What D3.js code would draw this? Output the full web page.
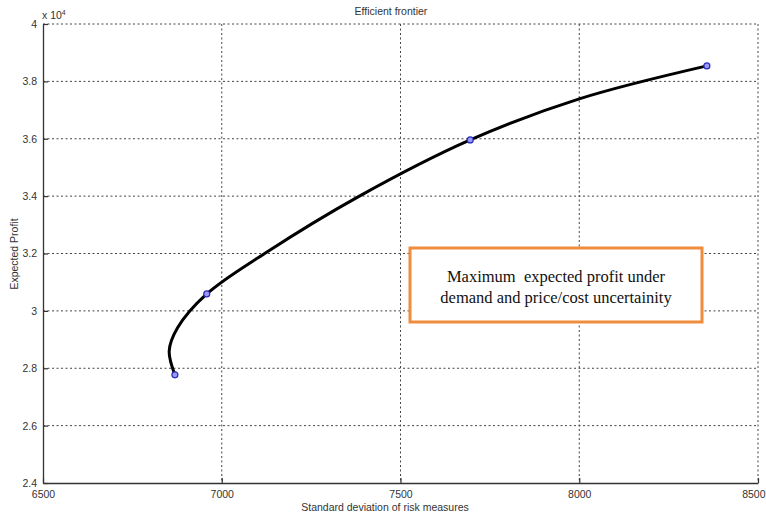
<!DOCTYPE html>
<html>
<head>
<meta charset="utf-8">
<script src="https://cdn.jsdelivr.net/npm/d3@7"></script>
<style>
  html, body { margin: 0; padding: 0; background: #fff; }
  svg { display: block; }
</style>
</head>
<body>
<svg id="chart" width="766" height="516"></svg>
<script>
// Efficient frontier: standard deviation of risk vs expected profit
const frontierStd    = [6869, 6853, 6876, 6958, 7120, 7385, 7695, 8000, 8357];
const frontierProfit = [27770, 28600, 29400, 30590, 32000, 34000, 35960, 37390, 38540];

// Solved portfolios marked on the frontier
const pointStd    = [6869, 6958, 7695, 8357];
const pointProfit = [27770, 30590, 35960, 38540];

const xTicks = [6500, 7000, 7500, 8000, 8500];
const yTicks = [24000, 26000, 28000, 30000, 32000, 34000, 36000, 38000, 40000];

const titleText = "Efficient frontier";
const xLabel = "Standard deviation of risk measures";
const yLabel = "Expected Profit";
const noteLines = ["Maximum  expected profit under", "demand and price/cost uncertainity"];

const svg = d3.select("#chart");
const m = { left: 43, right: 758, top: 24, bottom: 483 };

const x = d3.scaleLinear().domain([6500, 8500]).range([m.left, m.right]);
const y = d3.scaleLinear().domain([24000, 40000]).range([m.bottom, m.top]);

const font = "Liberation Sans, Arial, sans-serif";
const textCol = "#333";

// Dotted grid
const grid = svg.append("g");
grid.selectAll("line.gx").data(xTicks.slice(1)).enter().append("line")
  .attr("x1", d => x(d)).attr("x2", d => x(d))
  .attr("y1", m.top).attr("y2", m.bottom)
  .attr("stroke", "#444").attr("stroke-width", 1).attr("stroke-dasharray", "2,2.5");
grid.selectAll("line.gy").data(yTicks.slice(1)).enter().append("line")
  .attr("y1", d => y(d)).attr("y2", d => y(d))
  .attr("x1", m.left).attr("x2", m.right)
  .attr("stroke", "#444").attr("stroke-width", 1).attr("stroke-dasharray", "2,2.5");

// Axes with inward ticks
const xAxis = d3.axisBottom(x).tickValues(xTicks).tickSizeInner(-5).tickSizeOuter(0).tickPadding(8).tickFormat(d3.format("d"));
const yAxis = d3.axisLeft(y).tickValues(yTicks).tickSizeInner(-5).tickSizeOuter(0).tickPadding(6).tickFormat(d => d3.format("~g")(d / 10000));

const gx = svg.append("g").attr("transform", `translate(0,${m.bottom})`).call(xAxis);
const gy = svg.append("g").attr("transform", `translate(${m.left},0)`).call(yAxis);
[gx, gy].forEach(g => {
  g.select(".domain").attr("stroke", "#333").attr("stroke-width", 1.3);
  g.selectAll(".tick line").attr("stroke", "#333").attr("stroke-width", 1.2);
  g.selectAll(".tick text").attr("fill", textCol).attr("font-family", font).attr("font-size", 10.5);
});
// keep the last x label inside the frame
gx.selectAll(".tick text").filter(d => d === 8500).attr("text-anchor", "end").attr("dx", 7);

// Exponent marker
const expo = svg.append("text").attr("x", 42).attr("y", 19)
  .attr("font-family", font).attr("font-size", 10.5).attr("fill", textCol);
expo.append("tspan").text("x 10");
expo.append("tspan").attr("font-size", 7).attr("dy", -4).text("4");

// Title and axis labels
svg.append("text").attr("x", 391).attr("y", 15).attr("text-anchor", "middle")
  .attr("font-family", font).attr("font-size", 10.5).attr("fill", textCol).text(titleText);
svg.append("text").attr("x", 385).attr("y", 511).attr("text-anchor", "middle")
  .attr("font-family", font).attr("font-size", 10.5).attr("fill", textCol).text(xLabel);
svg.append("text").attr("transform", "translate(18,254) rotate(-90)").attr("text-anchor", "middle")
  .attr("font-family", font).attr("font-size", 10.5).attr("fill", textCol).text(yLabel);

// Frontier curve
const frontier = frontierStd.map((s, i) => [s, frontierProfit[i]]);
const line = d3.line().x(d => x(d[0])).y(d => y(d[1])).curve(d3.curveCatmullRom.alpha(0.5));
svg.append("path").datum(frontier)
  .attr("d", line).attr("fill", "none")
  .attr("stroke", "#000").attr("stroke-width", 3).attr("stroke-linecap", "round");

// Portfolio markers
svg.selectAll("circle.pt").data(pointStd.map((s, i) => [s, pointProfit[i]])).enter().append("circle")
  .attr("cx", d => x(d[0])).attr("cy", d => y(d[1])).attr("r", 3)
  .attr("fill", "#9a9af0").attr("stroke", "#2a2ac0").attr("stroke-width", 1.2);

// Annotation box
svg.append("rect").attr("x", 410).attr("y", 248).attr("width", 292).attr("height", 74)
  .attr("fill", "#fff").attr("stroke", "#ef8d3c").attr("stroke-width", 3);
svg.append("g").selectAll("text").data(noteLines).enter().append("text")
  .attr("x", 556).attr("y", (d, i) => 282 + i * 21)
  .attr("text-anchor", "middle").attr("xml:space", "preserve")
  .attr("font-family", "Liberation Serif, Times New Roman, serif").attr("font-size", 16.5).attr("fill", "#111")
  .text(d => d);
</script>
</body>
</html>
